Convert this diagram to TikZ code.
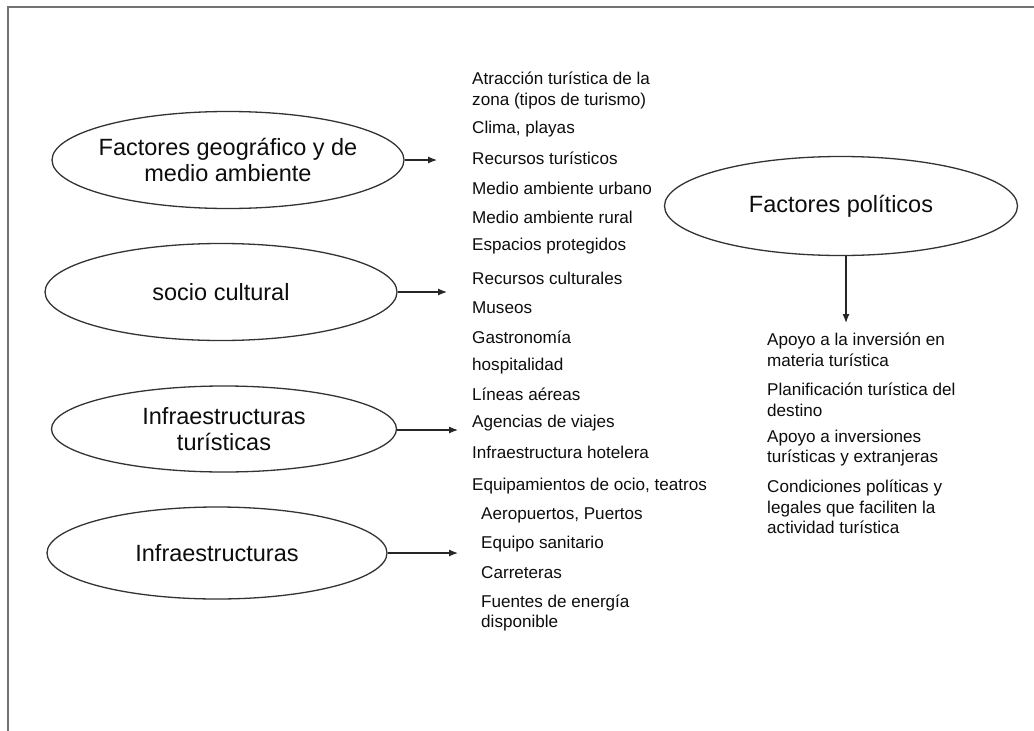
\documentclass[tikz,border=0pt]{standalone}
\usepackage{fontspec}
\setmainfont{Liberation Sans}
\usetikzlibrary{shapes.geometric,arrows.meta}
\begin{document}
\begin{tikzpicture}[x=1pt,y=-1pt,
  oval/.style={draw=black!80, line width=1.3pt, ellipse, inner sep=0pt},
  ovaltext/.style={align=center, font=\fontsize{23.5}{26}\selectfont, text=black!95},
  item/.style={anchor=west, align=left, inner sep=0pt, font=\fontsize{17.1}{20.5}\selectfont, text=black!95},
  link/.style={-{Latex[length=9pt,width=7pt]}, line width=1.2pt, draw=black!85}]
\useasboundingbox (0,0) rectangle (1034,731);
\clip (0,0) rectangle (1034,731);
\fill[white] (0,0) rectangle (1034,731);
% page frame (open at right and bottom)
\draw[black!55, line width=2pt] (8,760) -- (8,7) -- (1050,7);

% factor ellipses
\node[oval, minimum width=352pt, minimum height=97pt] (e1) at (228,160) {};
\node[ovaltext] (t1) at (e1) {Factores geográfico y de\\medio ambiente};
\node[oval, minimum width=352pt, minimum height=97pt] (e2) at (221,292) {};
\node[ovaltext] (t2) at (e2) {socio cultural};
\node[oval, minimum width=345pt, minimum height=86pt] (e3) at (224,429) {};
\node[ovaltext] (t3) at (e3) {Infraestructuras\\turísticas};
\node[oval, minimum width=340pt, minimum height=92pt] (e4) at (217,553) {};
\node[ovaltext] (t4) at (e4) {Infraestructuras};
\node[oval, minimum width=353pt, minimum height=99pt] (e5) at (841,206) {};
\node[ovaltext] (t5) at (e5) {Factores políticos};

% left list
\node[item] (i1) at (472,90.5) {Atracción turística de la\\zona (tipos de turismo)};
\node[item] (i2) at (472,129) {Clima, playas};
\node[item] (i3) at (472,158) {Recursos turísticos};
\node[item] (i4) at (472,188) {Medio ambiente urbano};
\node[item] (i5) at (472,217) {Medio ambiente rural};
\node[item] (i6) at (472,246) {Espacios protegidos};
\node[item] (i7) at (472,278) {Recursos culturales};
\node[item] (i8) at (472,308) {Museos};
\node[item] (i9) at (472,337) {Gastronomía};
\node[item] (i10) at (472,366) {hospitalidad};
\node[item] (i11) at (472,394) {Líneas aéreas};
\node[item] (i12) at (472,423) {Agencias de viajes};
\node[item] (i13) at (472,452) {Infraestructura hotelera};
\node[item] (i14) at (472,486) {Equipamientos de ocio, teatros};
\node[item] (i15) at (481,515) {Aeropuertos, Puertos};
\node[item] (i16) at (481,544) {Equipo sanitario};
\node[item] (i17) at (481,573) {Carreteras};
\node[item] (i18) at (481,613) {Fuentes de energía\\disponible};

% right list
\node[item] (r1) at (767,350) {Apoyo a la inversión en\\materia turística};
\node[item] (r2) at (767,400) {Planificación turística del\\destino};
\node[item] (r3) at (767,448) {Apoyo a inversiones\\turísticas y extranjeras};
\node[item] (r4) at (767,507) {Condiciones políticas y\\legales que faciliten la\\actividad turística};

% arrow tips
\coordinate (a1) at (437,160);
\coordinate (a2) at (447,292);
\coordinate (a3) at (458,430);
\coordinate (a4) at (458,553);
\coordinate (a5) at (846,323);

\draw[link] (e1.east) -- (a1);
\draw[link] (e2.east) -- (a2);
\draw[link] (e3.east |- a3) -- (a3);
\draw[link] (e4.east) -- (a4);
\draw[link] (e5.south -| a5) -- (a5);
\end{tikzpicture}
\end{document}
